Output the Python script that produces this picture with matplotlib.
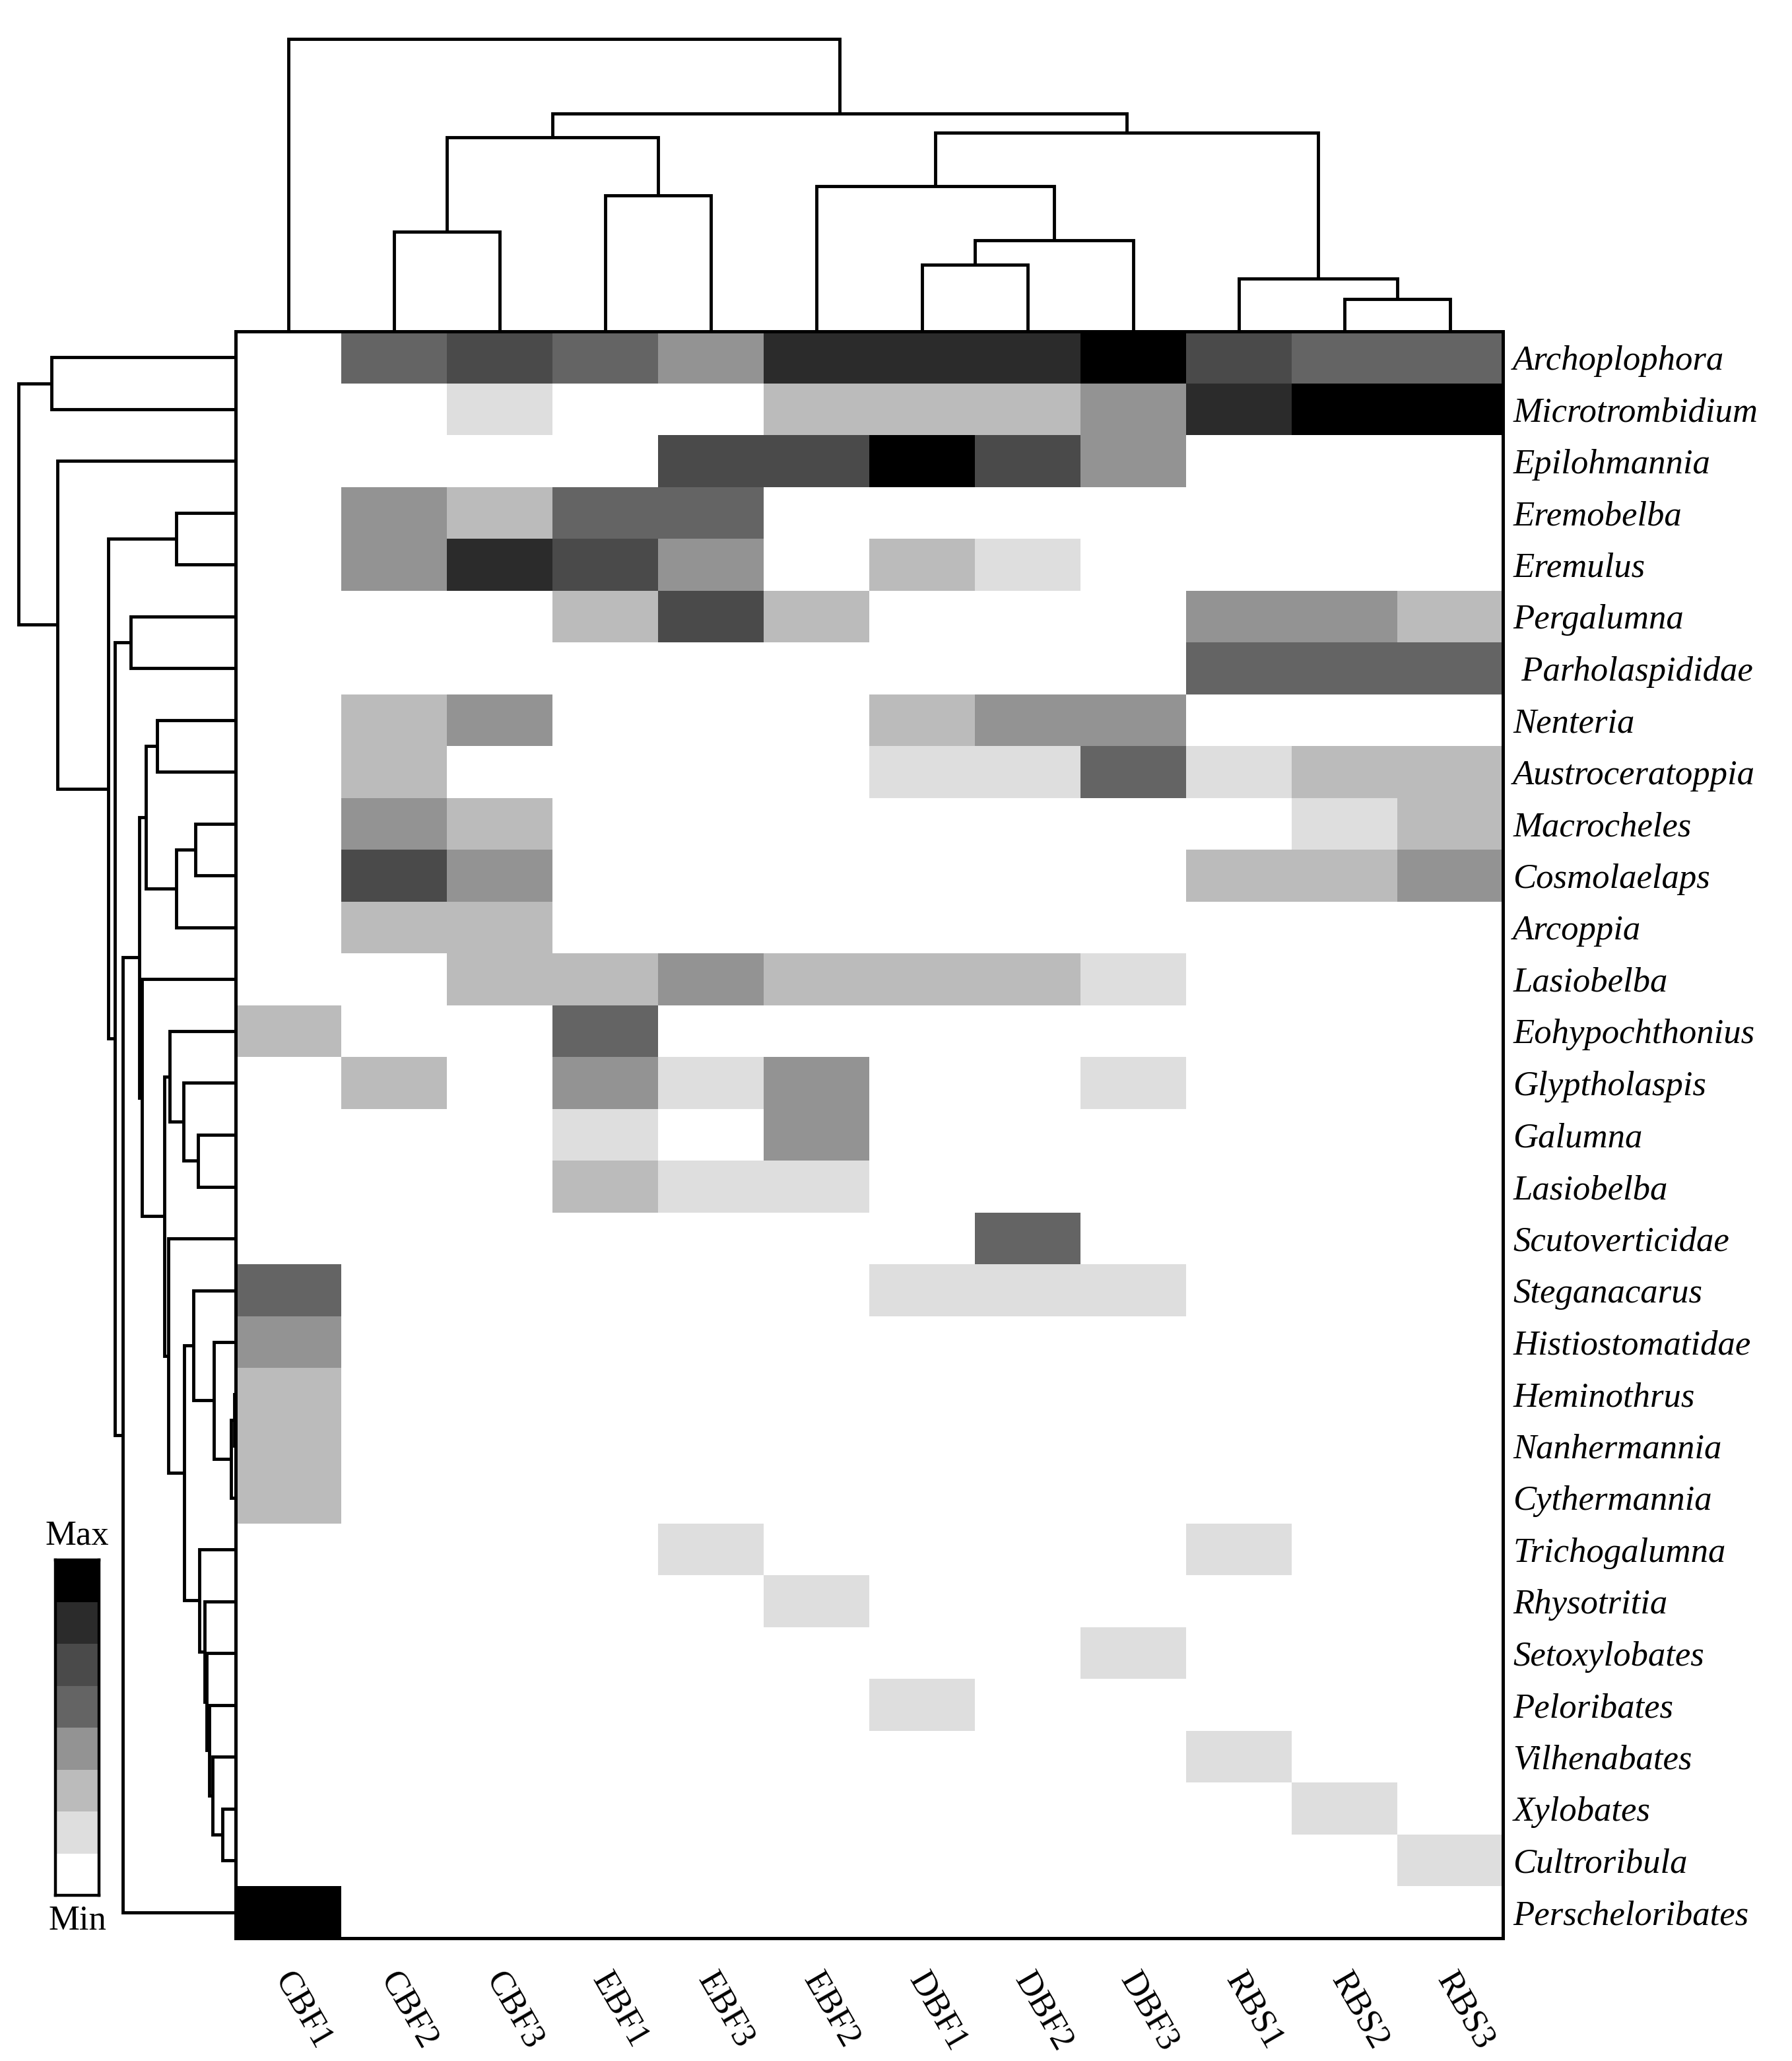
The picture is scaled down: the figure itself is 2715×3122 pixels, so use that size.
import numpy as np
import matplotlib
matplotlib.use("Agg")
import matplotlib.pyplot as plt
from matplotlib.colors import ListedColormap, BoundaryNorm
from matplotlib.transforms import offset_copy

# ---------------- data ----------------
samples = ["CBF1", "CBF2", "CBF3", "EBF1", "EBF3", "EBF2",
           "DBF1", "DBF2", "DBF3", "RBS1", "RBS2", "RBS3"]

taxa = ["Archoplophora", "Microtrombidium", "Epilohmannia", "Eremobelba",
        "Eremulus", "Pergalumna", " Parholaspididae", "Nenteria",
        "Austroceratoppia", "Macrocheles", "Cosmolaelaps", "Arcoppia",
        "Lasiobelba", "Eohypochthonius", "Glyptholaspis", "Galumna",
        "Lasiobelba", "Scutoverticidae", "Steganacarus", "Histiostomatidae",
        "Heminothrus", "Nanhermannia", "Cythermannia", "Trichogalumna",
        "Rhysotritia", "Setoxylobates", "Peloribates", "Vilhenabates",
        "Xylobates", "Cultroribula", "Perscheloribates"]

# abundance class (0 = Min ... 7 = Max), rows = taxa, cols = samples
levels = [
    [0, 4, 5, 4, 3, 6, 6, 6, 7, 5, 4, 4],
    [0, 0, 1, 0, 0, 2, 2, 2, 3, 6, 7, 7],
    [0, 0, 0, 0, 5, 5, 7, 5, 3, 0, 0, 0],
    [0, 3, 2, 4, 4, 0, 0, 0, 0, 0, 0, 0],
    [0, 3, 6, 5, 3, 0, 2, 1, 0, 0, 0, 0],
    [0, 0, 0, 2, 5, 2, 0, 0, 0, 3, 3, 2],
    [0, 0, 0, 0, 0, 0, 0, 0, 0, 4, 4, 4],
    [0, 2, 3, 0, 0, 0, 2, 3, 3, 0, 0, 0],
    [0, 2, 0, 0, 0, 0, 1, 1, 4, 1, 2, 2],
    [0, 3, 2, 0, 0, 0, 0, 0, 0, 0, 1, 2],
    [0, 5, 3, 0, 0, 0, 0, 0, 0, 2, 2, 3],
    [0, 2, 2, 0, 0, 0, 0, 0, 0, 0, 0, 0],
    [0, 0, 2, 2, 3, 2, 2, 2, 1, 0, 0, 0],
    [2, 0, 0, 4, 0, 0, 0, 0, 0, 0, 0, 0],
    [0, 2, 0, 3, 1, 3, 0, 0, 1, 0, 0, 0],
    [0, 0, 0, 1, 0, 3, 0, 0, 0, 0, 0, 0],
    [0, 0, 0, 2, 1, 1, 0, 0, 0, 0, 0, 0],
    [0, 0, 0, 0, 0, 0, 0, 4, 0, 0, 0, 0],
    [4, 0, 0, 0, 0, 0, 1, 1, 1, 0, 0, 0],
    [3, 0, 0, 0, 0, 0, 0, 0, 0, 0, 0, 0],
    [2, 0, 0, 0, 0, 0, 0, 0, 0, 0, 0, 0],
    [2, 0, 0, 0, 0, 0, 0, 0, 0, 0, 0, 0],
    [2, 0, 0, 0, 0, 0, 0, 0, 0, 0, 0, 0],
    [0, 0, 0, 0, 1, 0, 0, 0, 0, 1, 0, 0],
    [0, 0, 0, 0, 0, 1, 0, 0, 0, 0, 0, 0],
    [0, 0, 0, 0, 0, 0, 0, 0, 1, 0, 0, 0],
    [0, 0, 0, 0, 0, 0, 1, 0, 0, 0, 0, 0],
    [0, 0, 0, 0, 0, 0, 0, 0, 0, 1, 0, 0],
    [0, 0, 0, 0, 0, 0, 0, 0, 0, 0, 1, 0],
    [0, 0, 0, 0, 0, 0, 0, 0, 0, 0, 0, 1],
    [7, 0, 0, 0, 0, 0, 0, 0, 0, 0, 0, 0],
]

gray_levels = ["#ffffff", "#dedede", "#bbbbbb", "#939393",
               "#646464", "#4a4a4a", "#2b2b2b", "#000000"]

# linkage: (child_a, child_b, height); leaves first, internal ids follow
col_linkage = [
    (10, 11, 49), (9, 12, 80), (6, 7, 101.5), (14, 8, 138),
    (1, 2, 151.5), (3, 4, 206), (5, 15, 220), (16, 17, 294),
    (18, 13, 301), (19, 20, 330.5), (0, 21, 443.5),
]

row_linkage = [
    (20, 21, 2), (31, 22, 7), (28, 29, 20), (27, 33, 35), (19, 32, 33),
    (26, 34, 40), (25, 36, 44), (24, 37, 47), (23, 38, 55), (15, 16, 57),
    (9, 10, 61), (18, 35, 64), (42, 39, 78), (14, 40, 79), (3, 4, 90),
    (41, 11, 90), (13, 44, 100), (17, 43, 102), (47, 48, 108), (7, 8, 119),
    (50, 46, 136), (12, 49, 142), (51, 52, 146), (5, 6, 159), (53, 30, 171),
    (54, 55, 183), (45, 56, 193), (2, 57, 270), (0, 1, 279), (59, 58, 329),
]

# ---------------- layout ----------------
FW, FH = 2715, 3122
fig = plt.figure(figsize=(FW / 100, FH / 100), dpi=100)
plt.rcParams["font.family"] = ["Liberation Serif", "DejaVu Serif"]

hm_l, hm_r, hm_t, hm_b = 357, 2277, 502, 2936
def frac(l, t, r, b):
    return [l / FW, 1 - b / FH, (r - l) / FW, (b - t) / FH]

ax = fig.add_axes(frac(hm_l, hm_t, hm_r, hm_b))
ax_top = fig.add_axes(frac(hm_l, 0, hm_r, hm_t))
ax_left = fig.add_axes(frac(0, hm_t, hm_l, hm_b))
ax_cb = fig.add_axes(frac(84, 2363, 150, 2871))

data = np.array(levels)
nrow, ncol = data.shape
cmap = ListedColormap(gray_levels)
norm = BoundaryNorm(np.arange(-0.5, 8.5, 1), cmap.N)

ax.pcolormesh(np.arange(ncol + 1), np.arange(nrow + 1), data,
              cmap=cmap, norm=norm, antialiased=False)
ax.set_xlim(0, ncol)
ax.set_ylim(nrow, 0)
for s in ax.spines.values():
    s.set_linewidth(3.6)
    s.set_color("black")

ax.yaxis.tick_right()
ax.set_yticks(np.arange(nrow) + 0.5)
ax.set_yticklabels(taxa, fontsize=38, fontstyle="italic")
ax.tick_params(axis="y", length=0, pad=11)

ax.set_xticks(np.arange(ncol) + 0.5)
ax.set_xticklabels(samples, fontsize=38, rotation=-60,
                   rotation_mode="anchor", ha="left", va="center")
ax.tick_params(axis="x", length=0, pad=40)
for lbl in ax.get_xticklabels():
    lbl.set_transform(offset_copy(lbl.get_transform(), fig=fig, x=-9, y=0,
                                  units="dots"))

# ---------------- dendrograms ----------------
LW = 3.5

def draw_dendro(axis, linkage, n_leaves, orient):
    pos = {i: i + 0.5 for i in range(n_leaves)}
    hgt = {i: 0.0 for i in range(n_leaves)}
    for k, (a, b, h) in enumerate(linkage):
        nid = n_leaves + k
        pa, pb = pos[a], pos[b]
        ha, hb = hgt[a], hgt[b]
        if orient == "top":
            xs, ys = [pa, pa, pb, pb], [ha, h, h, hb]
        else:
            xs, ys = [ha, h, h, hb], [pa, pa, pb, pb]
        axis.plot(xs, ys, color="black", lw=LW,
                  solid_joinstyle="miter", solid_capstyle="butt")
        pos[nid] = (pa + pb) / 2
        hgt[nid] = h
    axis.axis("off")

draw_dendro(ax_top, col_linkage, ncol, "top")
ax_top.set_xlim(0, ncol)
ax_top.set_ylim(0, hm_t)

draw_dendro(ax_left, row_linkage, nrow, "left")
ax_left.set_xlim(hm_l, 0)
ax_left.set_ylim(nrow, 0)

# ---------------- colour key ----------------
key = np.arange(len(gray_levels)).reshape(-1, 1)
ax_cb.pcolormesh(np.arange(2), np.arange(len(gray_levels) + 1), key,
                 cmap=cmap, norm=norm, antialiased=False)
ax_cb.set_xlim(0, 1)
ax_cb.set_ylim(0, len(gray_levels))
ax_cb.set_xticks([])
ax_cb.set_yticks([])
for s in ax_cb.spines.values():
    s.set_linewidth(3.2)
ax_cb.text(0.5, 1.025, "Max", transform=ax_cb.transAxes, ha="center",
           va="bottom", fontsize=38)
ax_cb.text(0.5, -0.03, "Min", transform=ax_cb.transAxes, ha="center",
           va="top", fontsize=38)

fig.savefig("out.png", dpi=100, facecolor="white")
